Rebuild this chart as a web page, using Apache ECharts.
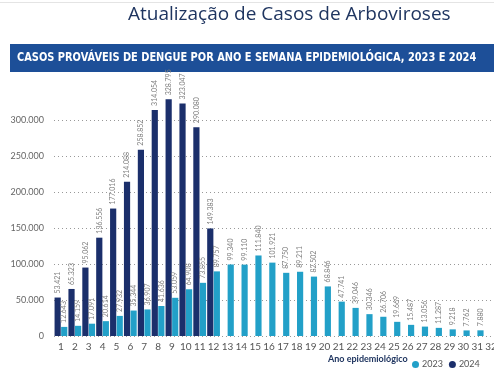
<!DOCTYPE html>
<html><head><meta charset="utf-8">
<script src="https://cdn.jsdelivr.net/npm/echarts@6/dist/echarts.min.js"></script>
<style>html,body{margin:0;padding:0;background:#fff;}#c{width:494px;height:379px;}</style>
</head><body><div id="c"></div>
<script>
const weeks = ['1','2','3','4','5','6','7','8','9','10','11','12','13','14','15','16','17','18','19','20','21','22','23','24','25','26','27','28','29','30','31','32'];
const cases2023 = [12643,14159,17091,20614,27932,35344,36907,41636,53059,64908,73855,89757,99340,99110,111840,101921,87750,89211,82502,68846,47741,39046,30346,26706,19669,15487,13056,11287,9218,7762,7880,null];
const cases2024 = [53421,65323,95062,136556,177016,214088,258852,314054,328795,323047,290080,149383,null,null,null,null,null,null,null,null,null,null,null,null,null,null,null,null,null,null,null,null];
const yTicks = [0,50000,100000,150000,200000,250000,300000];
const fmt = v => String(v).replace(/\B(?=(\d{3})+(?!\d))/g, '.');
const chart = echarts.init(document.getElementById('c'));
const lbl = {show:true, position:'top', rotate:90, align:'left', verticalAlign:'middle', distance:4, fontSize:7, color:'#808080', fontFamily:'Lato', formatter:p=>fmt(p.value)};
chart.setOption({
  animation:false,
  textStyle:{fontFamily:'Lato'},
  graphic:[
    {type:'rect', shape:{x:0,y:2,width:494,height:1}, style:{fill:'#e4e4e4'}},
    {type:'rect', shape:{x:10,y:44,width:484,height:28}, style:{fill:'#1d4f98'}},
    {type:'text', left:128, top:5, style:{text:'Atualização de Casos de Arboviroses', fill:'#1f3560', font:'19px "Open Sans"'}},
    {type:'text', x:17, y:51, scaleX:0.875, style:{text:'CASOS PROVÁVEIS DE DENGUE POR ANO E SEMANA EPIDEMIOLÓGICA, 2023 E 2024', fill:'#ffffff', font:'bold 12.5px "DejaVu Sans Condensed"'}},
    {type:'text', left:328, top:355, style:{text:'Ano epidemiológico', fill:'#1f3560', font:'bold 9px Lato'}}
  ],
  legend:{left:407, top:355, itemWidth:7, itemHeight:7, itemGap:6, icon:'circle', textStyle:{fontSize:9, color:'#555', padding:[0,0,0,-2]}, data:['2023','2024']},
  grid:{left:54, top:84, width:444, height:252, outerBoundsMode:'none', containLabel:false},
  xAxis:{type:'category', data:weeks, axisLine:{show:false}, axisTick:{show:false}, axisLabel:{fontSize:10, color:'#555', margin:6, interval:0}},
  yAxis:{type:'value', min:0, max:350000, interval:50000,
    axisLabel:{fontSize:9, color:'#666', margin:10, showMaxLabel:false, formatter:v=>fmt(v)},
    splitLine:{showMaxLine:false, lineStyle:{type:[1,3], color:'#999', width:1}}},
  series:[
    {name:'2024', type:'bar', data:cases2024, itemStyle:{color:'#1b2f6b'}, barGap:'6%', barCategoryGap:'8%', label:lbl},
    {name:'2023', type:'bar', data:cases2023, itemStyle:{color:'#22a0c8'}, label:lbl}
  ]
});
</script></body></html>
